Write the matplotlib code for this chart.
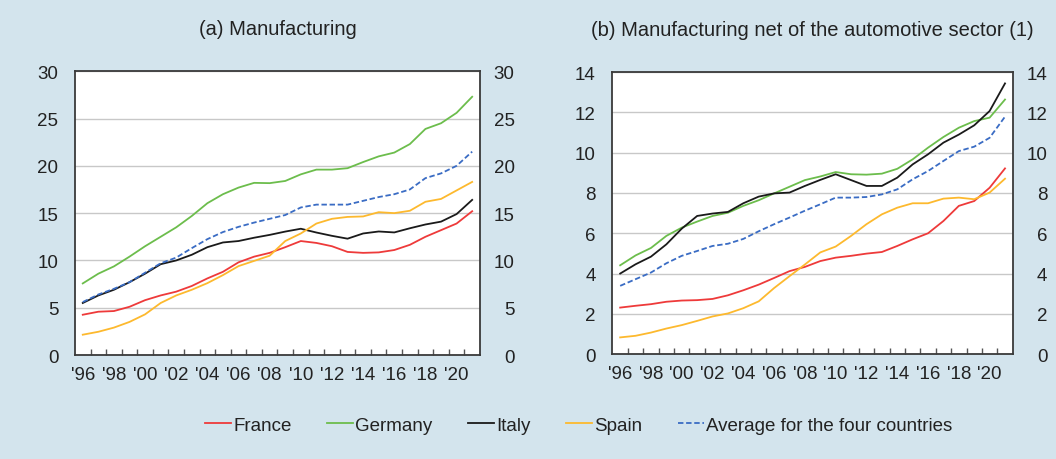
import matplotlib.pyplot as plt
import matplotlib.transforms as mtransforms
from matplotlib.ticker import FixedLocator, NullFormatter

plt.rcParams['font.family'] = ['Liberation Sans', 'DejaVu Sans']

years = list(range(1996, 2022))

# (a) Manufacturing
a_france = [4.26, 4.58, 4.65, 5.1, 5.8, 6.3, 6.7, 7.3, 8.1, 8.8, 9.8, 10.4, 10.8,
            11.4, 12.05, 11.85, 11.5, 10.9, 10.8, 10.85, 11.1, 11.65, 12.5, 13.2, 13.9, 15.2]
a_germany = [7.57, 8.6, 9.37, 10.4, 11.5, 12.5, 13.5, 14.7, 16.05, 17.0, 17.7, 18.2, 18.17,
             18.4, 19.1, 19.6, 19.6, 19.75, 20.4, 21.0, 21.4, 22.3, 23.9, 24.5, 25.6, 27.3]
a_italy = [5.5, 6.3, 6.9, 7.7, 8.6, 9.6, 10.0, 10.6, 11.4, 11.9, 12.05, 12.4, 12.7,
           13.05, 13.35, 12.95, 12.6, 12.3, 12.85, 13.06, 12.96, 13.4, 13.8, 14.1, 14.9, 16.4]
a_spain = [2.15, 2.46, 2.9, 3.5, 4.3, 5.5, 6.3, 6.9, 7.6, 8.45, 9.4, 9.95, 10.5,
           12.05, 12.85, 13.9, 14.4, 14.6, 14.65, 15.1, 15.0, 15.25, 16.2, 16.5, 17.4, 18.3]
a_avg = [5.6, 6.4, 7.0, 7.7, 8.7, 9.7, 10.3, 11.3, 12.25, 13.0, 13.55, 14.0, 14.4,
         14.8, 15.6, 15.9, 15.9, 15.9, 16.3, 16.7, 17.0, 17.5, 18.7, 19.2, 20.0, 21.5]

# (b) Manufacturing net of the automotive sector
b_france = [2.31, 2.4, 2.48, 2.6, 2.66, 2.68, 2.74, 2.92, 3.17, 3.45, 3.78, 4.12, 4.33,
            4.62, 4.79, 4.88, 4.99, 5.07, 5.37, 5.7, 6.0, 6.61, 7.36, 7.6, 8.26, 9.22]
b_germany = [4.41, 4.9, 5.27, 5.87, 6.28, 6.58, 6.86, 7.02, 7.36, 7.64, 7.98, 8.31, 8.64,
             8.82, 9.04, 8.93, 8.91, 8.96, 9.2, 9.67, 10.25, 10.78, 11.24, 11.57, 11.74, 12.64]
b_italy = [4.0, 4.46, 4.84, 5.45, 6.23, 6.86, 6.98, 7.06, 7.49, 7.82, 7.98, 8.02, 8.35,
           8.65, 8.93, 8.64, 8.35, 8.35, 8.76, 9.42, 9.92, 10.5, 10.9, 11.36, 12.07, 13.44]
b_spain = [0.83, 0.91, 1.07, 1.27, 1.44, 1.65, 1.87, 2.02, 2.28, 2.62, 3.28, 3.87, 4.45,
           5.05, 5.34, 5.87, 6.45, 6.94, 7.27, 7.49, 7.49, 7.72, 7.77, 7.69, 8.02, 8.71]
b_avg = [3.39, 3.72, 4.05, 4.51, 4.88, 5.12, 5.37, 5.48, 5.72, 6.1, 6.45, 6.78, 7.12,
         7.44, 7.77, 7.77, 7.8, 7.93, 8.18, 8.68, 9.09, 9.59, 10.08, 10.3, 10.74, 11.79]

labels = ["France", "Germany", "Italy", "Spain", "Average for the four countries"]
colors = ["#ee3a3a", "#6cbd4c", "#1a1a1a", "#fdb92e", "#3a6cc4"]

bg = "#d3e4ed"
fig = plt.figure(figsize=(10.56, 4.6), dpi=100, facecolor=bg)
ax1 = fig.add_axes([0.071, 0.226, 0.3835, 0.617])
ax2 = fig.add_axes([0.580, 0.228, 0.379, 0.613])

panels = [
    (ax1, [a_france, a_germany, a_italy, a_spain, a_avg], 30, 5, "(a) Manufacturing"),
    (ax2, [b_france, b_germany, b_italy, b_spain, b_avg], 14, 2,
     "(b) Manufacturing net of the automotive sector (1)"),
]

for ax, series, ymax, step, title in panels:
    for i, s in enumerate(series):
        ls = (0, (3, 1.5)) if i == 4 else "-"
        ax.plot(years, s, color=colors[i], lw=1.3, ls=ls, label=labels[i], zorder=3)
    ax.set_xlim(1995.5, 2021.5)
    ax.set_ylim(0, ymax)
    ax.set_yticks(range(0, ymax + 1, step))
    ax.grid(axis="y", color="#c8c8c8", lw=1)
    ax.set_axisbelow(True)
    # ticks on category boundaries, labels every two years
    ax.xaxis.set_major_locator(FixedLocator([y + 0.5 for y in years[:-1]]))
    ax.xaxis.set_major_formatter(NullFormatter())
    ax.xaxis.set_minor_locator(FixedLocator(years[::2]))
    ax.set_xticklabels(["'" + str(y)[2:] for y in years[::2]], minor=True)
    ax.tick_params(axis="x", which="major", direction="in", length=4, width=1, color="#555555")
    ax.tick_params(axis="x", which="minor", length=0, pad=8, labelsize=13.5, labelcolor="#222222")
    ax.tick_params(axis="y", length=0, labelsize=13.5, labelcolor="#222222",
                   left=True, right=True, labelleft=True, labelright=True, pad=12)
    for sp in ax.spines.values():
        sp.set_color("#3a3a3a")
        sp.set_linewidth(1.3)
    ax.set_title(title, fontsize=14.5, color="#222222", pad=27)

# right-hand labels are right aligned
for ax in (ax1, ax2):
    off = mtransforms.ScaledTranslation(13 / 72, 0, fig.dpi_scale_trans)
    for t in ax.yaxis.get_major_ticks():
        t.label2.set_horizontalalignment("right")
        t.label2.set_transform(t.label2.get_transform() + off)

handles, _ = ax1.get_legend_handles_labels()
fig.legend(handles, labels, loc="center", bbox_to_anchor=(0.548, 0.074), ncol=5,
           frameon=False, fontsize=13.5, handlelength=1.4, handletextpad=0.1,
           columnspacing=1.9, labelcolor="#222222")

fig.savefig("out.png", dpi=100, facecolor=bg)
